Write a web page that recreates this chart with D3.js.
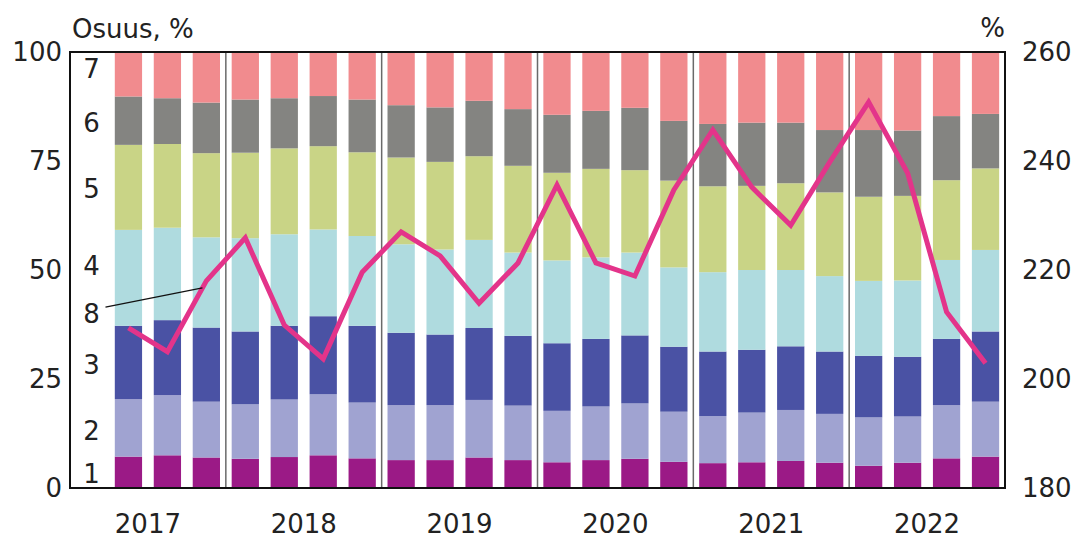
<!DOCTYPE html>
<html>
<head>
<meta charset="utf-8">
<script src="https://cdn.jsdelivr.net/npm/d3@7"></script>
<style>
    body { margin: 0; background: #fff; }
    text { font-family: "DejaVu Sans", sans-serif; fill: #222; }
</style>
</head>
<body>
<div id="chart"></div>
<script>

/* Quarters 2017Q1 .. 2022Q4.  The first slot is left empty, it holds the
   segment numbers. */
let years = ["2017", "2018", "2019", "2020", "2021", "2022"];
let quarters = [];
years.forEach(y => [1, 2, 3, 4].forEach(q => quarters.push(y + "Q" + q)));
let dataQuarters = quarters.slice(1);

/* Shares of the segments 1..7, percent, 2017Q2 .. 2022Q4. */
let s1 = [7.2, 7.5, 7.0, 6.7, 7.1, 7.5, 6.8, 6.4, 6.4, 7.0, 6.4, 5.9,
          6.4, 6.7, 6.0, 5.7, 5.9, 6.2, 5.8, 5.1, 5.8, 6.8, 7.2];
let s2 = [13.2, 13.8, 12.8, 12.5, 13.2, 14.0, 12.8, 12.6, 12.6, 13.2, 12.5, 11.8,
          12.3, 12.7, 11.5, 10.8, 11.4, 11.7, 11.2, 11.1, 10.6, 12.2, 12.6];
let s3 = [16.8, 17.2, 17.0, 16.7, 16.9, 17.9, 17.6, 16.6, 16.2, 16.5, 16.0, 15.5,
          15.5, 15.6, 14.9, 14.8, 14.4, 14.6, 14.3, 14.1, 13.7, 15.2, 16.1];
let s4 = [22.0, 21.2, 20.7, 21.4, 21.0, 19.9, 20.6, 20.3, 19.5, 20.2, 19.1, 19.0,
          18.7, 19.0, 18.2, 18.2, 18.3, 17.5, 17.3, 17.2, 17.5, 18.1, 18.7];
let s5 = [19.5, 19.2, 19.3, 19.6, 19.7, 19.1, 19.2, 19.9, 20.1, 19.2, 19.9, 20.1,
          20.3, 18.9, 19.9, 19.7, 19.3, 19.9, 19.2, 19.3, 19.4, 18.3, 18.7];
let s6 = [11.1, 10.5, 11.6, 12.2, 11.5, 11.5, 12.1, 12.0, 12.5, 12.7, 13.0, 13.3,
          13.3, 14.3, 13.7, 14.3, 14.5, 13.9, 14.3, 15.3, 15.0, 14.7, 12.5];
let s7 = [10.2, 10.6, 11.6, 10.9, 10.6, 10.1, 10.9, 12.2, 12.7, 11.2, 13.1, 14.4,
          13.5, 12.8, 15.8, 16.5, 16.2, 16.2, 17.9, 17.9, 18.0, 14.7, 14.2];

/* Series 8, right axis, percent. */
let s8 = [209.4, 205.0, 218.0, 225.9, 209.9, 203.7, 219.6, 227.0, 222.6, 213.9,
          221.3, 235.6, 221.3, 218.9, 234.7, 245.7, 235.2, 228.2, 239.8, 250.8,
          237.8, 212.3, 202.9];

let segmentNames = ["1", "2", "3", "4", "5", "6", "7"];
let segmentColors = ["#9b1a86", "#a0a3d1", "#4a52a4", "#afdbdf",
                     "#c9d486", "#848481", "#f18b8e"];
let lineColor = "#e3348a";

let leftTicks = [0, 25, 50, 75, 100];
let rightTicks = [180, 200, 220, 240, 260];

/* Where the segment numbers sit in the empty first slot, in left axis units. */
let labelPos = [3.4, 13.1, 28.2, 50.9, 68.6, 83.9, 96.1];
let lineLabelPos = 40.1;

/***************/
/* Drawing.    */
/***************/

let width = 1077, height = 540;
let margins = {top: 52, right: 72, bottom: 52, left: 70};

let svg = d3.select("#chart").append("svg")
    .attr("width", width)
    .attr("height", height);

let xscale = d3.scaleBand()
    .domain(quarters)
    .range([margins.left, width - margins.right])
    .paddingInner(0.3)
    .paddingOuter(0.15);
let yscale = d3.scaleLinear()
    .domain([0, 100])
    .range([height - margins.bottom, margins.top]);
let y2scale = d3.scaleLinear()
    .domain([180, 260])
    .range([height - margins.bottom, margins.top]);

/* Stack the seven shares. */
let rows = dataQuarters.map((q, i) => ({
    q: q, "1": s1[i], "2": s2[i], "3": s3[i], "4": s4[i],
    "5": s5[i], "6": s6[i], "7": s7[i]
}));
let stacked = d3.stack().keys(segmentNames)(rows);

svg.append("g")
    .selectAll("g")
    .data(stacked)
    .enter()
    .append("g")
        .attr("fill", (d, i) => segmentColors[i])
    .selectAll("rect")
    .data(d => d)
    .enter()
    .append("rect")
        .attr("x", d => xscale(d.data.q))
        .attr("width", xscale.bandwidth())
        .attr("y", d => yscale(d[1]))
        .attr("height", d => yscale(d[0]) - yscale(d[1]));

/* Thin year separators. */
let step = xscale.step();
svg.append("g")
    .selectAll("line")
    .data(years.slice(1))
    .enter()
    .append("line")
        .attr("x1", d => xscale(d + "Q1") - step * 0.15)
        .attr("x2", d => xscale(d + "Q1") - step * 0.15)
        .attr("y1", yscale(100))
        .attr("y2", yscale(0))
        .attr("stroke", "#6a6a6a")
        .attr("stroke-width", 1.5);

/* Series 8 line. */
let cx = q => xscale(q) + xscale.bandwidth() / 2;
let line = d3.line()
    .x((d, i) => cx(dataQuarters[i]))
    .y(d => y2scale(d));
svg.append("path")
    .attr("d", line(s8))
    .attr("fill", "none")
    .attr("stroke", lineColor)
    .attr("stroke-width", 5)
    .attr("stroke-linejoin", "miter");

/* Frame round the plot. */
svg.append("rect")
    .attr("x", margins.left)
    .attr("y", margins.top)
    .attr("width", width - margins.left - margins.right)
    .attr("height", height - margins.top - margins.bottom)
    .attr("fill", "none")
    .attr("stroke", "#111")
    .attr("stroke-width", 2);

/* Axes, no tick marks. */
let yaxis = d3.axisLeft(yscale).tickValues(leftTicks).tickSize(0).tickPadding(8);
let y2axis = d3.axisRight(y2scale).tickValues(rightTicks).tickSize(0).tickPadding(17);
let gl = svg.append("g")
    .attr("transform", "translate(" + margins.left + ",0)")
    .call(yaxis);
let gr = svg.append("g")
    .attr("transform", "translate(" + (width - margins.right) + ",0)")
    .call(y2axis);
[gl, gr].forEach(g => {
    g.select(".domain").remove();
    g.selectAll("text")
        .style("font-family", "DejaVu Sans")
        .style("font-size", "26px")
        .attr("fill", "#222");
});

/* Year labels centred under each group of four quarters. */
svg.append("g")
    .selectAll("text")
    .data(years)
    .enter()
    .append("text")
        .attr("x", d => (xscale(d + "Q1") + xscale(d + "Q4") + xscale.bandwidth()) / 2)
        .attr("y", 533)
        .attr("text-anchor", "middle")
        .style("font-size", "26px")
        .text(d => d);

/* Axis titles. */
svg.append("text")
    .attr("x", margins.left + 2)
    .attr("y", 38)
    .style("font-size", "26px")
    .text("Osuus, %");
svg.append("text")
    .attr("x", width - margins.right)
    .attr("y", 37)
    .attr("text-anchor", "end")
    .style("font-size", "26px")
    .text("%");

/* Segment numbers in the empty first slot. */
let lx = cx(quarters[0]) + 2;
svg.append("g")
    .selectAll("text")
    .data(segmentNames)
    .enter()
    .append("text")
        .attr("x", lx)
        .attr("y", (d, i) => yscale(labelPos[i]))
        .attr("dy", "0.36em")
        .attr("text-anchor", "middle")
        .style("font-size", "26px")
        .text(d => d);

svg.append("text")
    .attr("x", lx)
    .attr("y", yscale(lineLabelPos))
    .attr("dy", "0.36em")
    .attr("text-anchor", "middle")
    .style("font-size", "26px")
    .text("8");

/* Leader from "8" to the line, between its 2nd and 3rd point. */
let t = 0.9;
let tx = cx(dataQuarters[1]) + t * (cx(dataQuarters[2]) - cx(dataQuarters[1]));
let ty = y2scale(s8[1] + t * (s8[2] - s8[1]));
svg.append("line")
    .attr("x1", lx + 14)
    .attr("y1", yscale(lineLabelPos) - 6)
    .attr("x2", tx)
    .attr("y2", ty)
    .attr("stroke", "#111")
    .attr("stroke-width", 1.3);

</script>
</body>
</html>
